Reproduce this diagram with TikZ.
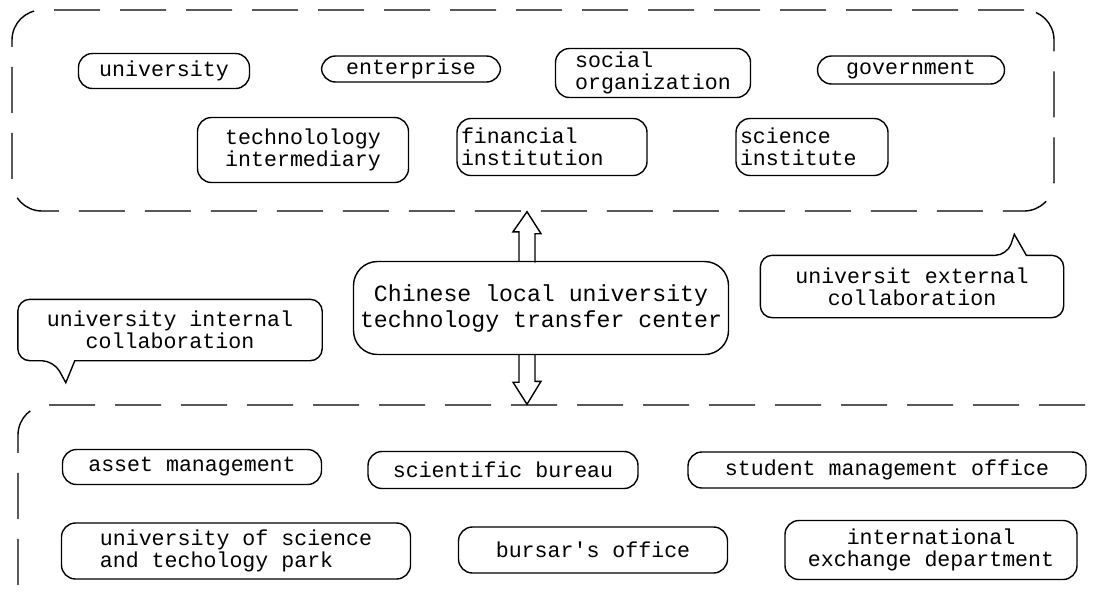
\documentclass[tikz,border=0pt]{standalone}
\usepackage{fontspec}
\newfontfamily\diagramfont{Liberation Mono}

\begin{document}
\begin{tikzpicture}[
    x=0.5pt, y=-0.5pt,
    line width=0.7pt,
    group/.style={draw, dash pattern=on 23pt off 10pt, rounded corners=15pt, inner sep=0pt},
    box/.style={draw, rounded corners=7pt, font=\diagramfont\fontsize{10.8}{11}\selectfont, inner xsep=3pt, inner ysep=1pt},
    hubbox/.style={draw, rounded corners=12pt, font=\diagramfont\fontsize{11.6}{13}\selectfont, align=center, inner xsep=2pt},
    note/.style={font=\diagramfont\fontsize{10.8}{11}\selectfont, align=center, inner sep=0pt},
    hollow/.style={draw, line join=miter}
]
\useasboundingbox (0,0) rectangle (1101,600);
\clip (0,0) rectangle (1101,600);
\fill[white] (0,0) rectangle (1101,600);

% Containers
\node[group, minimum width=521pt, minimum height=100.5pt] (outer) at (533,110.5) {};
\node[group, minimum width=548.5pt, minimum height=107.5pt] (inner) at (566.5,512.5) {};

% Outside partners
\node[box, minimum width=85.5pt, minimum height=17.5pt] (univ) at (164,71) {university};
\node[box, minimum width=89.5pt, minimum height=13pt] (enterprise) at (411,69) {enterprise};
\node[box, minimum width=97.5pt, minimum height=24.5pt, align=left] (social) at (653,73) {social\\organization};
\node[box, minimum width=93.5pt, minimum height=14pt] (gov) at (911,70) {government};
\node[box, minimum width=105.5pt, minimum height=32.5pt, align=center] (agency) at (303,150) {technolology\\intermediary};
\node[box, text width=91pt, inner xsep=2pt, minimum height=28.5pt, align=left] (finance) at (552,147) {financial\\institution};
\node[box, text width=72pt, inner xsep=2pt, minimum height=28.5pt, align=left] (institute) at (812,147) {science\\institute};

% Transfer center
\node[hubbox, minimum width=187.5pt, minimum height=46.5pt] (hub) at (541,308) {Chinese local university\\technology transfer center};

% Collaboration notes
\node[note, minimum width=151.5pt, minimum height=30pt] (internal) at (170,330) {university internal\\collaboration};
\node[note, minimum width=151pt, minimum height=30.5pt] (external) at (912,286.5) {universit external\\collaboration};
\draw[rounded corners=6pt] (internal.north) -- (internal.north west) -- (internal.south west) -- ++(36,0)
    [sharp corners] -- ++(12,22) -- ++(9,-22) [rounded corners=6pt] -- (internal.south east) -- (internal.north east) -- cycle;
\draw[rounded corners=6pt] (external.south) -- (external.south west) -- (external.north west) -- ++(247,0)
    [sharp corners] -- ++(7,-21) -- ++(12,21) [rounded corners=6pt] -- (external.north east) -- (external.south east) -- cycle;

% Inside departments
\node[box, minimum width=129.5pt, minimum height=17.5pt] (asset) at (192,467) {asset management};
\node[box, minimum width=135pt, minimum height=18.5pt] (bureau) at (503,470) {scientific bureau};
\node[box, minimum width=199pt, minimum height=18pt] (student) at (887,470) {student management office};
\node[box, minimum width=174.5pt, minimum height=28pt, align=left] (park) at (236,551) {university of science\\and techology park};
\node[box, minimum width=134.5pt, minimum height=23pt] (bursar) at (593,550) {bursar's office};
\node[box, minimum width=146pt, minimum height=29.5pt, align=center] (exchange) at (931,550) {international\\exchange department};

% Links
\coordinate (link) at (527,0);
\draw[hollow] (link |- hub.north) ++(-8,0) -- ++(0,-29) -- ++(-6,0) -- (link |- outer.south) -- ++(14,22) -- ++(-6,0) -- ++(0,29);
\draw[hollow] (link |- hub.south) ++(-8,0) -- ++(0,27) -- ++(-6,0) -- (link |- inner.north) -- ++(14,-23) -- ++(-6,0) -- ++(0,-27);

\end{tikzpicture}
\end{document}
